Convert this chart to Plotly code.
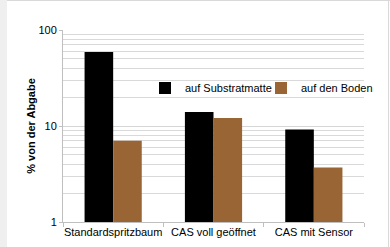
import plotly.graph_objects as go

categories = ["Standardspritzbaum", "CAS voll geöffnet", "CAS mit Sensor"]
substratmatte = [59, 14, 9.2]
boden = [7.0, 12.1, 3.7]
series_names = ["auf Substratmatte", "auf den Boden"]

L, R, T, B = 63, 26, 30, 25
W, H = 390, 247
pw = W - L - R
ph = H - T - B

fig = go.Figure()
fig.add_trace(go.Bar(x=categories, y=substratmatte, name=series_names[0],
                     legend="legend",
                     marker=dict(color="#000000", line=dict(width=0))))
fig.add_trace(go.Bar(x=categories, y=boden, name=series_names[1],
                     legend="legend2",
                     marker=dict(color="#9a6535", line=dict(width=0))))

font = dict(family="Liberation Sans, Arial, sans-serif", size=11, color="#000000")
leg_common = dict(orientation="h", y=(222 - 88) / ph, xanchor="left", yanchor="middle",
                  bgcolor="rgba(0,0,0,0)", font=font, itemwidth=30)

fig.update_layout(
    width=W, height=H,
    margin=dict(l=L, r=R, t=T, b=B, pad=0, autoexpand=False),
    paper_bgcolor="white", plot_bgcolor="white",
    barmode="group", bargap=0.43, bargroupgap=0,
    font=font,
    showlegend=True,
    legend=dict(x=(145 - L) / pw, **leg_common),
    legend2=dict(x=(261 - L) / pw, **leg_common),
    xaxis=dict(showline=True, linecolor="#bfbfbf", linewidth=1,
               ticks="outside", tickson="boundaries", ticklen=4,
               tickcolor="#bfbfbf", showgrid=False, tickfont=font,
               tickangle=0, automargin=False),
    yaxis=dict(type="log", range=[0, 2], tickmode="linear", tick0=0, dtick=1,
               showline=True, linecolor="#bfbfbf", linewidth=1,
               showgrid=True, gridcolor="#d6d6d6", gridwidth=1,
               ticks="outside", ticklen=3, tickcolor="#bfbfbf",
               tickfont=font, zeroline=False, automargin=False,
               minor=dict(dtick="D1", showgrid=True, gridcolor="#d9d9d9", gridwidth=1),
               title=dict(text="<b>% von der Abgabe</b>", font=font, standoff=0)),
    shapes=[
        dict(type="rect", xref="paper", yref="paper",
             x0=-L / pw, x1=(7 - L) / pw, y0=-B / ph, y1=(H - B) / ph,
             fillcolor="#efefef", line=dict(width=0), layer="below"),
        dict(type="line", xref="paper", yref="paper",
             x0=(7 - L) / pw, x1=(W - L) / pw, y0=(H - B - 0.5) / ph, y1=(H - B - 0.5) / ph,
             line=dict(color="#d9d9d9", width=1)),
        dict(type="line", xref="paper", yref="paper",
             x0=(388.5 - L) / pw, x1=(388.5 - L) / pw, y0=-B / ph, y1=(H - B) / ph,
             line=dict(color="#d9d9d9", width=1)),
    ],
)

fig.write_html("out.html", config={"displayModeBar": False},
               post_script="document.body.style.margin='0px';")
